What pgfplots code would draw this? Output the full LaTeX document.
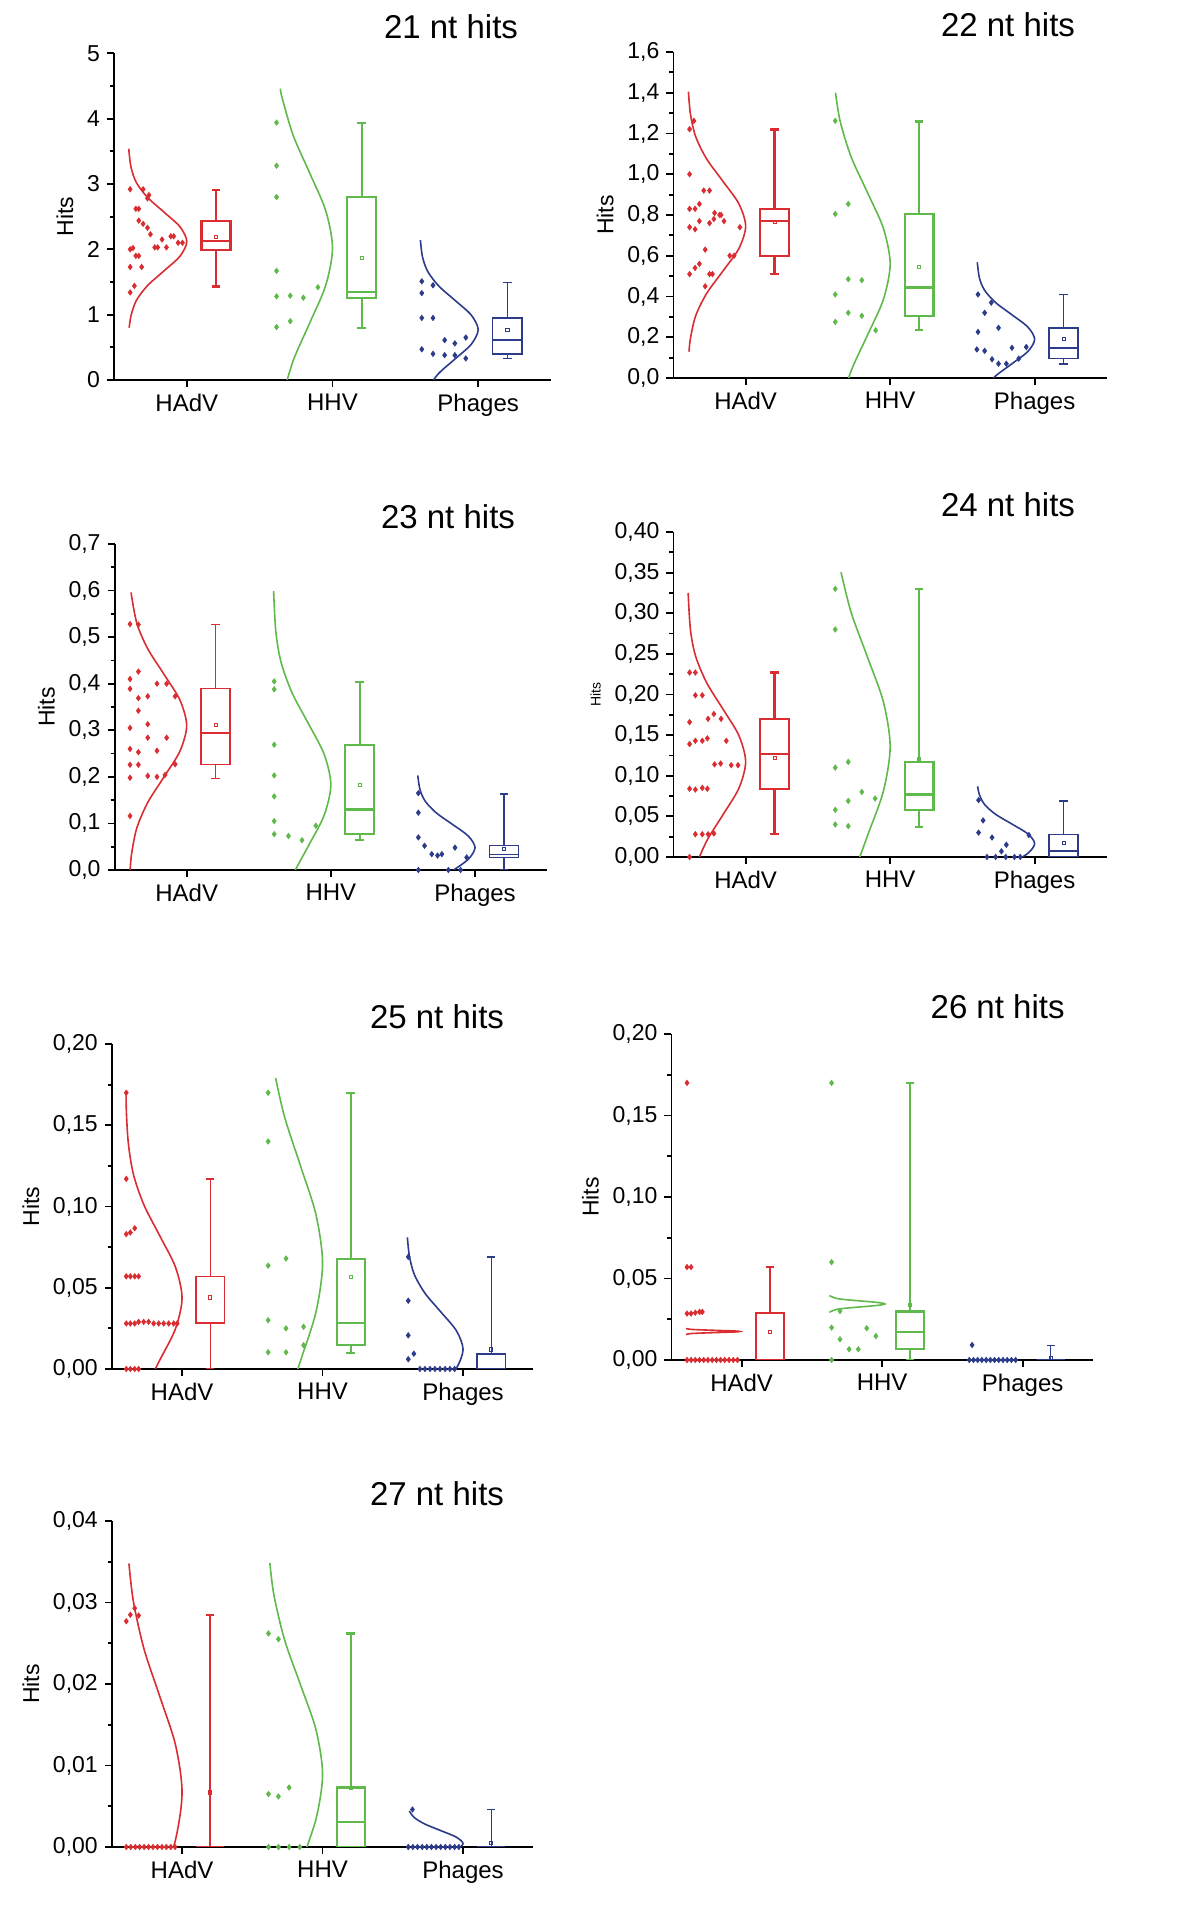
\documentclass[border=0pt]{standalone}
\usepackage{fontspec}
\setmainfont{Liberation Sans}
\usepackage{pgfplots}
\pgfplotsset{compat=1.18}
\usepgfplotslibrary{statistics}
\definecolor{cR}{RGB}{218,45,50}
\definecolor{cG}{RGB}{95,185,75}
\definecolor{cB}{RGB}{45,60,138}
\pgfplotsset{
  boxplot/draw direction=y,
  boxplot/box extend=0.2,
  boxplot/whisker extend=0.06,
  panel/.style={
    scale only axis, anchor=south west,
    xmin=0.5, xmax=3.5, ymin=0,
    axis x line*=bottom, axis y line*=left,
    tick align=outside,
    xtick={1,2,3}, xticklabels={HAdV,HHV,Phages},
    minor y tick num=1,
    scaled y ticks=false,
    major tick length=3.5pt, minor tick length=2pt,
    axis line style={line width=0.9pt},
    every tick/.style={black,line width=0.9pt},
    clip mode=individual,
    ylabel={Hits},
    ylabel style={font=\fontsize{11.5}{13}\selectfont},
    xticklabel style={font=\fontsize{12}{14}\selectfont},
    yticklabel style={font=\fontsize{11.5}{13}\selectfont,
      /pgf/number format/use comma, /pgf/number format/fixed,
      /pgf/number format/fixed zerofill, /pgf/number format/assume math mode=true},
  },
  crv/.style={smooth, line width=0.8pt, mark=none},
  pts/.style={only marks, mark=diamond*, mark size=1.3pt},
  mn/.style={only marks, mark=square, mark size=0.8pt, line width=0.4pt},
  thk/.style={line width=1.1pt},
  thn/.style={line width=0.65pt},
}
\begin{document}
\begin{tikzpicture}
\useasboundingbox (0,0) rectangle (600pt,961pt);
\def\tf{\fontsize{16.5}{18}\selectfont}
\node[font=\tf] at (225.5pt,947.5pt) {21 nt hits};
\node[font=\tf] at (504pt,948.5pt) {22 nt hits};
\node[font=\tf] at (224pt,702.5pt) {23 nt hits};
\node[font=\tf] at (504pt,708.5pt) {24 nt hits};
\node[font=\tf] at (218.5pt,452.5pt) {25 nt hits};
\node[font=\tf] at (498.8pt,457.5pt) {26 nt hits};
\node[font=\tf] at (218.5pt,214pt) {27 nt hits};

% ---------- 21 nt ----------
\begin{axis}[panel, at={(57pt,771pt)}, width=218.5pt, height=163.3pt, ymax=5,
  ytick={0,1,2,3,4,5}, yticklabel style={/pgf/number format/precision=0}]
\addplot[crv,cR] coordinates {(0.604,0.80)(0.618,0.995)(0.654,1.22)(0.730,1.445)(0.843,1.67)(0.953,1.895)(1.0,2.12)(0.953,2.345)(0.843,2.57)(0.730,2.795)(0.654,3.02)(0.618,3.245)(0.604,3.47)(0.602,3.54)};
\addplot[crv,cG] coordinates {(1.654,-0.28)(1.730,0.295)(1.843,0.87)(1.953,1.445)(2.0,2.02)(1.953,2.595)(1.843,3.17)(1.730,3.745)(1.654,4.32)(1.642,4.46)};
\addplot[crv,cB] coordinates {(2.654,-0.12)(2.730,0.1025)(2.843,0.325)(2.953,0.5475)(3.0,0.77)(2.953,0.9925)(2.843,1.215)(2.730,1.4375)(2.654,1.66)(2.618,1.8825)(2.6035,2.14)};
\addplot[pts,cR] coordinates {(0.611,2.92)(0.70,2.92)(0.73,2.78)(0.74,2.83)(0.65,2.62)(0.67,2.62)(0.67,2.44)(0.70,2.39)(0.73,2.33)(0.75,2.23)(0.83,2.15)(0.89,2.20)(0.91,2.20)(0.94,2.10)(0.97,2.10)(0.78,2.03)(0.80,2.03)(0.86,2.03)(0.611,2.0)(0.63,2.02)(0.65,1.90)(0.67,1.90)(0.611,1.73)(0.69,1.73)(0.64,1.44)(0.611,1.34)};
\addplot[pts,cG] coordinates {(1.616,3.94)(1.616,3.28)(1.616,2.80)(1.616,1.67)(1.616,1.28)(1.71,1.29)(1.80,1.26)(1.90,1.42)(1.616,0.81)(1.71,0.90)};
\addplot[pts,cB] coordinates {(2.613,1.51)(2.69,1.45)(2.613,1.33)(2.613,0.95)(2.69,0.95)(2.77,0.61)(2.84,0.56)(2.915,0.65)(2.613,0.47)(2.69,0.40)(2.77,0.38)(2.84,0.38)(2.915,0.33)};
\addplot[cR,thk,boxplot prepared={draw position=1.2,lower whisker=1.43,lower quartile=1.99,median=2.13,upper quartile=2.43,upper whisker=2.91}] coordinates {};
\addplot[cG,thk,boxplot prepared={draw position=2.2,lower whisker=0.80,lower quartile=1.25,median=1.35,upper quartile=2.80,upper whisker=3.94}] coordinates {};
\addplot[cB,thn,boxplot prepared={draw position=3.2,lower whisker=0.33,lower quartile=0.40,median=0.61,upper quartile=0.95,upper whisker=1.49}] coordinates {};
\addplot[mn,cR] coordinates {(1.2,2.19)};
\addplot[mn,cG] coordinates {(2.2,1.87)};
\addplot[mn,cB] coordinates {(3.2,0.77)};
\end{axis}

% ---------- 22 nt ----------
\begin{axis}[panel, at={(336.7pt,772pt)}, width=216.75pt, height=163pt, ymax=1.6,
  ytick={0,0.2,0.4,0.6,0.8,1.0,1.2,1.4,1.6}, yticklabel style={/pgf/number format/precision=1}]
\addplot[crv,cR] coordinates {(0.608,0.129)(0.618,0.195)(0.654,0.305)(0.730,0.415)(0.843,0.525)(0.953,0.635)(1.0,0.745)(0.953,0.855)(0.843,0.965)(0.730,1.075)(0.654,1.185)(0.618,1.295)(0.604,1.405)};
\addplot[crv,cG] coordinates {(1.654,-0.14)(1.730,0.035)(1.843,0.21)(1.953,0.385)(2.0,0.56)(1.953,0.735)(1.843,0.91)(1.730,1.085)(1.654,1.26)(1.622,1.40)};
\addplot[crv,cB] coordinates {(2.654,-0.05)(2.730,0.01)(2.843,0.07)(2.953,0.13)(3.0,0.19)(2.953,0.25)(2.843,0.31)(2.730,0.37)(2.654,0.43)(2.618,0.49)(2.603,0.568)};
\addplot[pts,cR] coordinates {(0.612,1.221)(0.642,1.262)(0.612,1.00)(0.71,0.92)(0.75,0.92)(0.612,0.83)(0.65,0.83)(0.68,0.854)(0.785,0.81)(0.82,0.80)(0.83,0.80)(0.68,0.77)(0.75,0.76)(0.78,0.78)(0.85,0.77)(0.612,0.74)(0.65,0.73)(0.96,0.74)(0.72,0.63)(0.89,0.60)(0.92,0.60)(0.612,0.51)(0.65,0.54)(0.68,0.56)(0.75,0.51)(0.77,0.51)(0.72,0.45)};
\addplot[pts,cG] coordinates {(1.62,1.262)(1.62,0.805)(1.71,0.854)(1.71,0.485)(1.804,0.48)(1.62,0.41)(1.71,0.32)(1.804,0.305)(1.62,0.275)(1.90,0.234)};
\addplot[pts,cB] coordinates {(2.608,0.41)(2.70,0.37)(2.654,0.32)(2.608,0.226)(2.75,0.246)(2.60,0.14)(2.654,0.133)(2.843,0.148)(2.942,0.152)(2.705,0.092)(2.75,0.07)(2.804,0.07)(2.89,0.095)};
\addplot[cR,thk,boxplot prepared={draw position=1.2,lower whisker=0.51,lower quartile=0.60,median=0.772,upper quartile=0.83,upper whisker=1.22}] coordinates {};
\addplot[cG,thk,boxplot prepared={draw position=2.2,lower whisker=0.234,lower quartile=0.305,median=0.444,upper quartile=0.805,upper whisker=1.259}] coordinates {};
\addplot[cB,line width=0.85pt,boxplot prepared={draw position=3.2,lower whisker=0.067,lower quartile=0.095,median=0.148,upper quartile=0.246,upper whisker=0.41}] coordinates {};
\addplot[mn,cR] coordinates {(1.2,0.767)};
\addplot[mn,cG] coordinates {(2.2,0.546)};
\addplot[mn,cB] coordinates {(3.2,0.19)};
\end{axis}

% ---------- 23 nt ----------
\begin{axis}[panel, at={(57.3pt,526pt)}, width=216.25pt, height=163pt, ymax=0.7,
  ytick={0,0.1,0.2,0.3,0.4,0.5,0.6,0.7}, yticklabel style={/pgf/number format/precision=1}]
\addplot[crv,cR] coordinates {(0.607,-0.0035)(0.618,0.035)(0.654,0.09)(0.730,0.145)(0.843,0.20)(0.953,0.255)(1.0,0.31)(0.953,0.365)(0.843,0.42)(0.730,0.475)(0.654,0.53)(0.614,0.596)};
\addplot[crv,cG] coordinates {(1.654,-0.081)(1.730,-0.015)(1.843,0.051)(1.953,0.117)(2.0,0.183)(1.953,0.249)(1.843,0.315)(1.730,0.381)(1.654,0.447)(1.618,0.513)(1.603,0.599)};
\addplot[crv,cB] coordinates {(2.730,-0.027)(2.843,-0.002)(2.953,0.023)(3.0,0.048)(2.953,0.073)(2.843,0.098)(2.730,0.123)(2.654,0.148)(2.618,0.173)(2.603,0.203)};
\addplot[pts,cR] coordinates {(0.607,0.528)(0.665,0.527)(0.665,0.426)(0.607,0.41)(0.607,0.389)(0.665,0.369)(0.73,0.373)(0.794,0.40)(0.861,0.40)(0.92,0.373)(0.665,0.342)(0.607,0.305)(0.73,0.313)(0.73,0.284)(0.861,0.284)(0.607,0.26)(0.665,0.253)(0.794,0.256)(0.607,0.226)(0.665,0.226)(0.92,0.227)(0.607,0.198)(0.73,0.202)(0.794,0.20)(0.85,0.204)(0.607,0.116)};
\addplot[pts,cG] coordinates {(1.607,0.405)(1.607,0.388)(1.607,0.269)(1.607,0.203)(1.607,0.158)(1.607,0.105)(1.607,0.077)(1.706,0.073)(1.80,0.064)(1.896,0.095)};
\addplot[pts,cB] coordinates {(2.607,0.165)(2.607,0.123)(2.607,0.07)(2.65,0.052)(2.70,0.034)(2.74,0.031)(2.77,0.034)(2.861,0.048)(2.942,0.027)(2.607,0)(2.815,0)(2.90,0)};
\addplot[cR,thn,boxplot prepared={draw position=1.2,lower whisker=0.197,lower quartile=0.226,median=0.294,upper quartile=0.389,upper whisker=0.527}] coordinates {};
\addplot[cG,thk,boxplot prepared={draw position=2.2,lower whisker=0.064,lower quartile=0.077,median=0.130,upper quartile=0.269,upper whisker=0.403}] coordinates {};
\addplot[cB,thn,boxplot prepared={draw position=3.2,lower whisker=0,lower quartile=0.027,median=0.034,upper quartile=0.052,upper whisker=0.163}] coordinates {};
\addplot[mn,cR] coordinates {(1.2,0.312)};
\addplot[mn,cG] coordinates {(2.2,0.183)};
\addplot[mn,cB] coordinates {(3.2,0.045)};
\end{axis}

% ---------- 24 nt ----------
\begin{axis}[panel, at={(336.7pt,532.5pt)}, width=216.75pt, height=162.5pt, ymax=0.4,
  ytick={0,0.05,0.1,0.15,0.2,0.25,0.3,0.35,0.4}, yticklabel style={/pgf/number format/precision=2},
  ylabel style={font=\fontsize{7}{8}\selectfont}]
\addplot[crv,cR] coordinates {(0.618,-0.0455)(0.654,-0.013)(0.730,0.0195)(0.843,0.052)(0.953,0.0845)(1.0,0.117)(0.953,0.1495)(0.843,0.182)(0.730,0.2145)(0.654,0.247)(0.618,0.2795)(0.602,0.325)};
\addplot[crv,cG] coordinates {(1.730,-0.029)(1.843,0.026)(1.953,0.081)(2.0,0.136)(1.953,0.191)(1.843,0.246)(1.730,0.301)(1.660,0.3505)};
\addplot[crv,cB] coordinates {(2.843,-0.0075)(2.953,0.0045)(3.0,0.0165)(2.953,0.0285)(2.843,0.0405)(2.730,0.0525)(2.654,0.0645)(2.618,0.0765)(2.605,0.087)};
\addplot[pts,cR] coordinates {(0.612,0.227)(0.652,0.227)(0.652,0.199)(0.70,0.199)(0.612,0.166)(0.74,0.17)(0.78,0.176)(0.83,0.17)(0.612,0.139)(0.652,0.143)(0.70,0.143)(0.735,0.146)(0.866,0.143)(0.785,0.114)(0.827,0.115)(0.90,0.113)(0.947,0.113)(0.612,0.084)(0.652,0.083)(0.70,0.085)(0.735,0.084)(0.652,0.028)(0.70,0.028)(0.74,0.028)(0.78,0.029)(0.612,0)};
\addplot[pts,cG] coordinates {(1.62,0.33)(1.62,0.28)(1.62,0.11)(1.71,0.117)(1.804,0.08)(1.71,0.069)(1.896,0.072)(1.62,0.058)(1.62,0.040)(1.71,0.038)};
\addplot[pts,cB] coordinates {(2.612,0.07)(2.643,0.045)(2.612,0.030)(2.705,0.024)(2.804,0.015)(2.96,0.027)(2.77,0.007)(2.67,0)(2.73,0)(2.80,0)(2.86,0)(2.90,0)};
\addplot[cR,thk,boxplot prepared={draw position=1.2,lower whisker=0.028,lower quartile=0.084,median=0.127,upper quartile=0.170,upper whisker=0.227}] coordinates {};
\addplot[cG,thk,boxplot prepared={draw position=2.2,lower whisker=0.037,lower quartile=0.058,median=0.077,upper quartile=0.117,upper whisker=0.33}] coordinates {};
\addplot[cB,line width=0.85pt,boxplot prepared={draw position=3.2,lower whisker=0,lower quartile=0,median=0.0074,upper quartile=0.0275,upper whisker=0.069}] coordinates {};
\addplot[mn,cR] coordinates {(1.2,0.122)};
\addplot[mn,cG] coordinates {(2.2,0.12)};
\addplot[mn,cB] coordinates {(3.2,0.017)};
\end{axis}

% ---------- 25 nt ----------
\begin{axis}[panel, at={(55.9pt,276.5pt)}, width=210.75pt, height=162.5pt, ymax=0.2,
  ytick={0,0.05,0.1,0.15,0.2}, yticklabel style={/pgf/number format/precision=2}]
\addplot[crv,cR] coordinates {(0.730,-0.0133)(0.843,0.0057)(0.953,0.0247)(1.0,0.0437)(0.953,0.0627)(0.843,0.0817)(0.730,0.1007)(0.654,0.1197)(0.618,0.1387)(0.604,0.1577)(0.602,0.1691)};
\addplot[crv,cG] coordinates {(1.730,-0.025)(1.843,0.005)(1.953,0.035)(2.0,0.065)(1.953,0.095)(1.843,0.125)(1.730,0.155)(1.666,0.179)};
\addplot[crv,cB] coordinates {(2.843,-0.011)(2.953,0.0005)(3.0,0.012)(2.953,0.0235)(2.843,0.035)(2.730,0.0465)(2.654,0.058)(2.618,0.0695)(2.604,0.081)};
\addplot[pts,cR] coordinates {(0.603,0.17)(0.603,0.117)(0.603,0.083)(0.632,0.084)(0.663,0.0866)(0.603,0.057)(0.632,0.057)(0.663,0.057)(0.691,0.057)(0.603,0.028)(0.632,0.028)(0.663,0.028)(0.691,0.029)(0.727,0.029)(0.762,0.029)(0.798,0.028)(0.834,0.028)(0.869,0.028)(0.905,0.028)(0.94,0.028)(0.965,0.028)(0.603,0)(0.632,0)(0.663,0)(0.691,0)};
\addplot[pts,cG] coordinates {(1.613,0.17)(1.613,0.14)(1.613,0.0636)(1.74,0.068)(1.613,0.030)(1.74,0.025)(1.865,0.026)(1.865,0.0146)(1.613,0.0103)(1.74,0.0103)};
\addplot[pts,cB] coordinates {(2.61,0.069)(2.61,0.042)(2.61,0.0207)(2.65,0.0094)(2.61,0.006)(2.693,0)(2.729,0)(2.765,0)(2.80,0)(2.836,0)(2.872,0)(2.907,0)(2.94,0)};
\addplot[cR,thn,boxplot prepared={draw position=1.2,lower whisker=0,lower quartile=0.028,median=0.0283,upper quartile=0.057,upper whisker=0.117}] coordinates {};
\addplot[cG,thk,boxplot prepared={draw position=2.2,lower whisker=0.0098,lower quartile=0.015,median=0.0283,upper quartile=0.0677,upper whisker=0.17}] coordinates {};
\addplot[cB,thn,boxplot prepared={draw position=3.2,lower whisker=0,lower quartile=0,median=0,upper quartile=0.0092,upper whisker=0.069}] coordinates {};
\addplot[mn,cR] coordinates {(1.2,0.044)};
\addplot[mn,cG] coordinates {(2.2,0.0566)};
\addplot[mn,cB] coordinates {(3.2,0.012)};
\end{axis}

% ---------- 26 nt ----------
\begin{axis}[panel, at={(335.7pt,281pt)}, width=210.75pt, height=163pt, ymax=0.2,
  ytick={0,0.05,0.1,0.15,0.2}, yticklabel style={/pgf/number format/precision=2}]
\addplot[crv,cR] coordinates {(0.604,0.0157)(0.654,0.0163)(0.843,0.0169)(0.953,0.0172)(0.985,0.0175)(0.953,0.0178)(0.843,0.0181)(0.654,0.0187)(0.604,0.0193)};
\addplot[crv,cG] coordinates {(1.624,0.0293)(1.674,0.031)(1.750,0.03185)(1.863,0.0327)(1.973,0.03355)(2.02,0.0344)(1.973,0.03525)(1.863,0.0361)(1.750,0.03695)(1.674,0.0378)(1.624,0.0395)};
\addplot[pts,cR] coordinates {(0.611,0.17)(0.611,0.057)(0.64,0.057)(0.611,0.0285)(0.64,0.0285)(0.67,0.029)(0.70,0.0295)(0.72,0.0295)(0.611,0)(0.64,0)(0.67,0)(0.70,0)(0.73,0)(0.76,0)(0.79,0)(0.82,0)(0.85,0)(0.88,0)(0.91,0)(0.94,0)(0.97,0)};
\addplot[pts,cG] coordinates {(1.64,0.17)(1.64,0.06)(1.70,0.030)(1.64,0.0199)(1.89,0.0195)(1.70,0.0127)(1.955,0.0147)(1.765,0.0066)(1.83,0.0066)(1.64,0)};
\addplot[pts,cB] coordinates {(2.64,0.0092)(2.62,0)(2.65,0)(2.68,0)(2.71,0)(2.74,0)(2.77,0)(2.80,0)(2.83,0)(2.86,0)(2.89,0)(2.92,0)(2.95,0)};
\addplot[cR,thk,boxplot prepared={draw position=1.2,lower whisker=0,lower quartile=0,median=0,upper quartile=0.0287,upper whisker=0.057}] coordinates {};
\addplot[cG,thk,boxplot prepared={draw position=2.2,lower whisker=0,lower quartile=0.0066,median=0.017,upper quartile=0.0297,upper whisker=0.17}] coordinates {};
\addplot[cB,thn,boxplot prepared={draw position=3.2,lower whisker=0,lower quartile=0,median=0,upper quartile=0,upper whisker=0.0088}] coordinates {};
\addplot[mn,cR] coordinates {(1.2,0.0174)};
\addplot[mn,cG] coordinates {(2.2,0.034)};
\addplot[mn,cB] coordinates {(3.2,0.0015)};
\end{axis}

% ---------- 27 nt ----------
\begin{axis}[panel, at={(55.9pt,37.5pt)}, width=210.75pt, height=163pt, ymax=0.04,
  ytick={0,0.01,0.02,0.03,0.04}, yticklabel style={/pgf/number format/precision=2}]
\addplot[crv,cR] coordinates {(0.843,-0.005)(0.953,0.00085)(1.0,0.0067)(0.953,0.01255)(0.843,0.0184)(0.730,0.02425)(0.654,0.0301)(0.622,0.03478)};
\addplot[crv,cG] coordinates {(1.843,-0.0021)(1.953,0.0034)(2.0,0.0089)(1.953,0.0144)(1.843,0.0199)(1.730,0.0254)(1.654,0.0309)(1.625,0.03486)};
\addplot[crv,cB] coordinates {(2.953,-0.0004)(3.0,0.0004)(2.953,0.0012)(2.843,0.002)(2.730,0.0028)(2.654,0.0036)(2.618,0.0044)};
\addplot[pts,cR] coordinates {(0.603,0.0277)(0.632,0.0285)(0.663,0.0293)(0.691,0.0284)(0.603,0)(0.635,0)(0.667,0)(0.698,0)(0.73,0)(0.762,0)(0.793,0)(0.825,0)(0.857,0)(0.888,0)(0.92,0)(0.95,0)};
\addplot[pts,cG] coordinates {(1.615,0.0262)(1.686,0.0255)(1.615,0.0065)(1.686,0.0062)(1.762,0.0073)(1.615,0)(1.686,0)(1.762,0)(1.838,0)};
\addplot[pts,cB] coordinates {(2.64,0.0046)(2.61,0)(2.643,0)(2.676,0)(2.709,0)(2.742,0)(2.775,0)(2.808,0)(2.841,0)(2.874,0)(2.907,0)(2.94,0)(2.97,0)};
\addplot[cR,thk,boxplot prepared={draw position=1.2,lower whisker=0,lower quartile=0,median=0,upper quartile=0,upper whisker=0.0285}] coordinates {};
\addplot[cG,thk,boxplot prepared={draw position=2.2,lower whisker=0,lower quartile=0,median=0.0031,upper quartile=0.0073,upper whisker=0.0262}] coordinates {};
\addplot[cB,thn,boxplot prepared={draw position=3.2,lower whisker=0,lower quartile=0,median=0,upper quartile=0,upper whisker=0.0046}] coordinates {};
\addplot[mn,cR] coordinates {(1.2,0.0067)};
\addplot[mn,cG] coordinates {(2.2,0.0073)};
\addplot[mn,cB] coordinates {(3.2,0.0005)};
\end{axis}
\end{tikzpicture}
\end{document}
